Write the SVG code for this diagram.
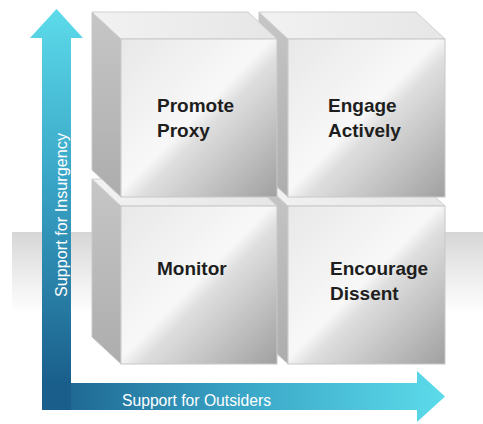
<svg xmlns="http://www.w3.org/2000/svg" width="483" height="424" viewBox="0 0 483 424">
<defs>
  <linearGradient id="band" x1="0" y1="0" x2="0" y2="1">
    <stop offset="0" stop-color="#d6d6d6"/>
    <stop offset="0.5" stop-color="#ececec"/>
    <stop offset="1" stop-color="#ffffff"/>
  </linearGradient>
  <linearGradient id="vgrad" x1="0" y1="0" x2="0" y2="1">
    <stop offset="0" stop-color="#5cdbea"/>
    <stop offset="0.45" stop-color="#3aa6c7"/>
    <stop offset="1" stop-color="#1a5f8c"/>
  </linearGradient>
  <linearGradient id="hgrad" x1="0" y1="0" x2="1" y2="0">
    <stop offset="0" stop-color="#1a5f8c"/>
    <stop offset="0.5" stop-color="#3aa6c7"/>
    <stop offset="1" stop-color="#5cdbea"/>
  </linearGradient>
  <linearGradient id="front" x1="0" y1="0" x2="1" y2="1">
    <stop offset="0" stop-color="#e8e8e8"/>
    <stop offset="0.48" stop-color="#f8f8f8"/>
    <stop offset="0.56" stop-color="#dedede"/>
    <stop offset="1" stop-color="#a0a0a0"/>
  </linearGradient>
  <linearGradient id="side" x1="0" y1="0" x2="0" y2="1">
    <stop offset="0" stop-color="#c6c6c6"/>
    <stop offset="1" stop-color="#adadad"/>
  </linearGradient>
  <linearGradient id="top" x1="0" y1="0" x2="1" y2="0">
    <stop offset="0" stop-color="#f2f2f2"/>
    <stop offset="1" stop-color="#e6e6e6"/>
  </linearGradient>
</defs>
<style>
  .front { fill: url(#front); stroke: #c8c8c8; stroke-width: 1; }
  .side { fill: url(#side); stroke: #c8c8c8; stroke-width: 1; }
  .top { fill: url(#top); stroke: #d0d0d0; stroke-width: 1; }
  .lbl { font-family: "Liberation Sans", Arial, sans-serif; font-weight: bold; font-size: 19px; fill: #1e1e1e; }
  .axis { font-family: "Liberation Sans", Arial, sans-serif; font-size: 16px; fill: #ffffff; }
</style>

<rect x="12" y="232" width="471" height="82" fill="url(#band)"/>

<g id="connectors">
  <path d="M42,38 L30,38 L56.5,9 L83,38 L71,38 L71,383 L42,383 Z" fill="url(#vgrad)"/>
  <path d="M42,383 L417,383 L417,371 L445,396.5 L417,422 L417,410 L42,410 Z" fill="url(#hgrad)"/>
  <path d="M42,383 L71,383 L71,410 L42,410 Z" fill="#1a5f8c"/>
</g>

<g id="cube-encourage">
  <polygon class="side" points="259,179 288,206 288,364 259,337"/>
  <polygon class="top" points="259,179 416,179 445,206 288,206"/>
  <rect class="front" x="288" y="206" width="157" height="158"/>
  <text class="lbl" x="330" y="275">Encourage</text>
  <text class="lbl" x="330" y="300">Dissent</text>
</g>

<g id="cube-monitor">
  <polygon class="side" points="92,179 121,206 121,364 92,337"/>
  <polygon class="top" points="92,179 248,179 277,206 121,206"/>
  <rect class="front" x="121" y="206" width="156" height="158"/>
  <text class="lbl" x="157" y="275">Monitor</text>
</g>

<g id="cube-engage">
  <polygon class="side" points="259,12 288,39 288,197 259,170"/>
  <polygon class="top" points="259,12 416,12 445,39 288,39"/>
  <rect class="front" x="288" y="39" width="157" height="158"/>
  <text class="lbl" x="328" y="112">Engage</text>
  <text class="lbl" x="328" y="137">Actively</text>
</g>

<g id="cube-promote">
  <polygon class="side" points="92,12 121,39 121,197 92,170"/>
  <polygon class="top" points="92,12 248,12 277,39 121,39"/>
  <rect class="front" x="121" y="39" width="156" height="158"/>
  <text class="lbl" x="157" y="112">Promote</text>
  <text class="lbl" x="157" y="137">Proxy</text>
</g>

<text class="axis" x="122" y="406" textLength="149" lengthAdjust="spacingAndGlyphs">Support for Outsiders</text>
<text class="axis" transform="translate(67,297) rotate(-90)" x="0" y="0" textLength="164" lengthAdjust="spacingAndGlyphs">Support for Insurgency</text>
</svg>
